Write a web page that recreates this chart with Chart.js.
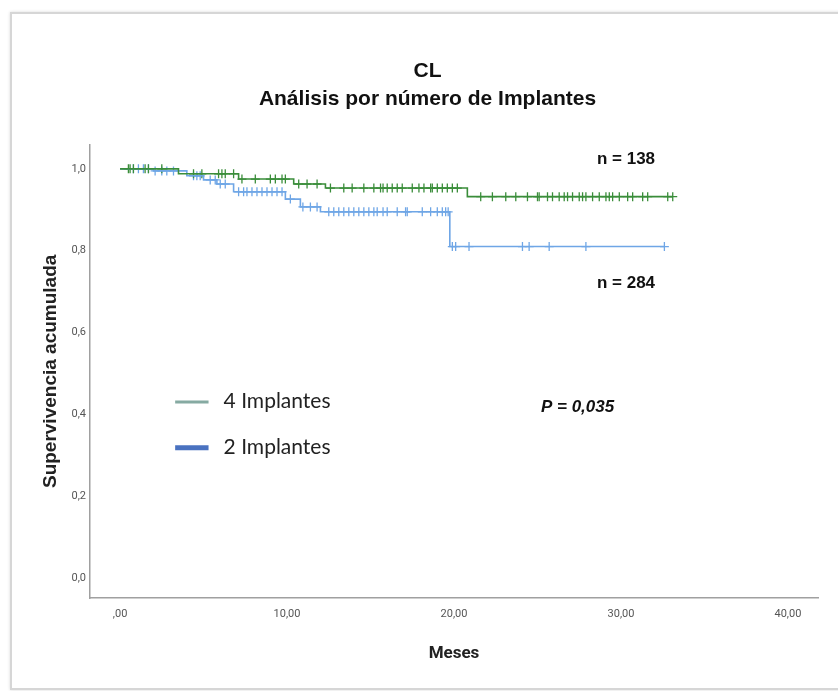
<!DOCTYPE html>
<html lang="es">
<head>
<meta charset="utf-8">
<title>CL - Análisis por número de Implantes</title>
<script src="https://cdn.jsdelivr.net/npm/chart.js@4.4.1/dist/chart.umd.min.js"></script>
<style>
  html, body { margin: 0; padding: 0; background: #fff; }
  #marco { position: absolute; left: 10px; top: 12px; width: 850px; height: 674px; border: 2px solid #d6d6d6; box-shadow: 0 0 3px rgba(0,0,0,0.15); }
  #km { position: absolute; left: 0; top: 0; }
</style>
</head>
<body>
<div id="marco"></div>
<canvas id="km" width="838" height="691"></canvas>
<script>
// Curva 4 implantes: momento de cada caída (meses) y supervivencia acumulada
const tiempos4 = [0, 3.5, 7.1, 10.4, 12.3, 20.8, 33.1]
const surv4 = [1, 0.988, 0.975, 0.963, 0.953, 0.932, 0.932]
// censurados (+) de 4 implantes
const cens4 = [0.5, 0.6, 0.8, 1.5, 1.7, 2.5, 4.4, 4.9, 5.9, 6.1, 6.3, 6.8, 7.3, 8.1, 9.0, 9.3, 9.7, 9.9,
  10.7, 11.2, 11.8, 12.6, 13.4, 13.9, 14.6, 15.2, 15.6, 15.75, 16.0, 16.3, 16.6, 16.9, 17.5, 17.9, 18.2,
  18.6, 18.7, 19.0, 19.3, 19.6, 19.9, 20.2, 21.6, 22.3, 23.1, 23.7, 24.4, 25.0, 25.1, 25.6, 25.9, 26.3,
  26.6, 26.8, 27.1, 27.5, 27.7, 27.9, 28.3, 28.7, 29.1, 29.3, 29.5, 29.9, 30.4, 30.7, 31.3, 31.6, 32.8, 33.1]

// Curva 2 implantes
const tiempos2 = [0, 2.0, 4.0, 5.0, 5.8, 6.8, 9.9, 10.8, 12.0, 19.75, 32.6]
const surv2 = [1, 0.995, 0.983, 0.973, 0.963, 0.944, 0.926, 0.907, 0.895, 0.81, 0.81]
const cens2 = [0.8, 1.1, 1.4, 1.7, 2.1, 2.5, 2.8, 3.2, 4.4, 4.6, 4.8, 5.4, 5.7, 6.0, 6.3, 7.1, 7.4, 7.6,
  7.9, 8.2, 8.5, 8.8, 9.1, 9.4, 9.7, 10.2, 10.95, 11.4, 11.8, 12.5, 12.8, 13.1, 13.4, 13.7, 14.0, 14.3,
  14.6, 14.9, 15.2, 15.4, 15.75, 16.0, 16.6, 17.1, 17.2, 18.1, 18.6, 19.0, 19.3, 19.5, 19.65,
  19.9, 20.1, 20.9, 24.1, 24.5, 25.7, 27.9, 32.6]

const ticksX = [0, 10, 20, 30, 40]
const ticksY = [0, 0.2, 0.4, 0.6, 0.8, 1.0]

const titulo = ['CL', 'Análisis por número de Implantes']
const etiquetasLeyenda = ['4 Implantes', '2 Implantes']
const coloresLeyenda = ['#86aaa2', '#4a72c0']
const textoN4 = 'n = 138'
const textoN2 = 'n = 284'
const textoP = 'P = 0,035'

const verde = '#3a8d3a'
const azul = '#6fa6e6'
const estrecha = 'Roboto, "Liberation Sans", sans-serif'
const arial = '"Liberation Sans", Arial, sans-serif'

// valor de la curva en el tiempo t (para colocar los censurados sobre la línea)
function nivel(tiempos, surv, t) {
  let s = surv[0]
  for (let i = 0; i < tiempos.length; i++) {
    if (tiempos[i] <= t) s = surv[i]
  }
  return s
}

const anotaciones = {
  id: 'anotaciones',
  afterDatasetsDraw(chart) {
    const { ctx, scales: { x, y } } = chart
    ctx.save()
    ctx.fillStyle = '#111'
    ctx.textAlign = 'center'
    ctx.textBaseline = 'middle'
    ctx.font = 'bold 17px ' + arial
    ctx.fillText(textoN4, x.getPixelForValue(30.3), y.getPixelForValue(1.024))
    ctx.fillText(textoN2, x.getPixelForValue(30.3), y.getPixelForValue(0.72))
    ctx.font = 'italic bold 17px ' + arial
    ctx.fillText(textoP, x.getPixelForValue(27.4), y.getPixelForValue(0.418))

    // leyenda dentro del área
    const posY = [0.43, 0.318]
    ctx.textAlign = 'left'
    ctx.font = '21px Lato, "Open Sans", sans-serif'
    etiquetasLeyenda.forEach((txt, i) => {
      const py = y.getPixelForValue(posY[i])
      ctx.strokeStyle = coloresLeyenda[i]
      ctx.lineWidth = i === 0 ? 3 : 5
      ctx.beginPath()
      ctx.moveTo(x.getPixelForValue(3.3), py)
      ctx.lineTo(x.getPixelForValue(5.3), py)
      ctx.stroke()
      ctx.fillStyle = '#222'
      ctx.fillText(txt, x.getPixelForValue(6.2), py - 1)
    })
    ctx.restore()
  }
}

const ctx = document.getElementById('km').getContext('2d')
new Chart(ctx, {
  data: {
    datasets: [
      {
        type: 'line',
        label: etiquetasLeyenda[0],
        data: tiempos4.map((t, i) => ({ x: t, y: surv4[i] })),
        borderColor: verde,
        borderWidth: 1.6,
        stepped: true,
        pointRadius: 0,
        fill: false
      },
      {
        type: 'line',
        label: etiquetasLeyenda[1],
        data: tiempos2.map((t, i) => ({ x: t, y: surv2[i] })),
        borderColor: azul,
        borderWidth: 1.6,
        stepped: true,
        pointRadius: 0,
        fill: false
      },
      {
        type: 'scatter',
        label: '4 Implantes censurado',
        data: cens4.map(t => ({ x: t, y: nivel(tiempos4, surv4, t) })),
        pointStyle: 'cross',
        pointRadius: 4.5,
        borderColor: verde,
        borderWidth: 1.3
      },
      {
        type: 'scatter',
        label: '2 Implantes censurado',
        data: cens2.map(t => ({ x: t, y: nivel(tiempos2, surv2, t) })),
        pointStyle: 'cross',
        pointRadius: 4.5,
        borderColor: azul,
        borderWidth: 1.3
      }
    ]
  },
  options: {
    responsive: false,
    animation: false,
    layout: { padding: { left: 37, right: 20, top: 0, bottom: 23 } },
    plugins: {
      legend: { display: false },
      tooltip: { enabled: false },
      title: {
        display: true,
        text: titulo,
        color: '#111',
        font: { family: arial, size: 21, weight: 'bold', lineHeight: 1.35 },
        padding: { top: 57, bottom: 31 }
      }
    },
    scales: {
      x: {
        type: 'linear',
        min: -1.8,
        max: 41.8,
        grid: { display: false, drawTicks: false },
        border: { color: '#a0a0a0', width: 1.5 },
        afterBuildTicks: s => { s.ticks = ticksX.map(v => ({ value: v })) },
        afterFit: s => { s.height = 70 },
        ticks: {
          padding: 10,
          color: '#555',
          font: { family: estrecha, size: 11 },
          maxRotation: 0,
          callback: v => v === 0 ? ',00' : v.toFixed(2).replace('.', ',')
        },
        title: {
          display: true,
          text: 'Meses',
          color: '#222',
          font: { family: estrecha, size: 17, weight: 'bold' },
          padding: { top: 4, bottom: 4 }
        }
      },
      y: {
        type: 'linear',
        min: -0.049,
        max: 1.059,
        grid: { display: false, drawTicks: false },
        border: { color: '#a0a0a0', width: 1.5 },
        afterBuildTicks: s => { s.ticks = ticksY.map(v => ({ value: v })) },
        afterFit: s => { s.width = 53 },
        ticks: {
          padding: 4,
          color: '#555',
          font: { family: estrecha, size: 11 },
          callback: v => v.toFixed(1).replace('.', ',')
        },
        title: {
          display: true,
          text: 'Supervivencia acumulada',
          color: '#222',
          font: { family: arial, size: 19, weight: 'bold' },
          padding: { top: 2, bottom: 2 }
        }
      }
    }
  },
  plugins: [anotaciones]
})
</script>
</body>
</html>
